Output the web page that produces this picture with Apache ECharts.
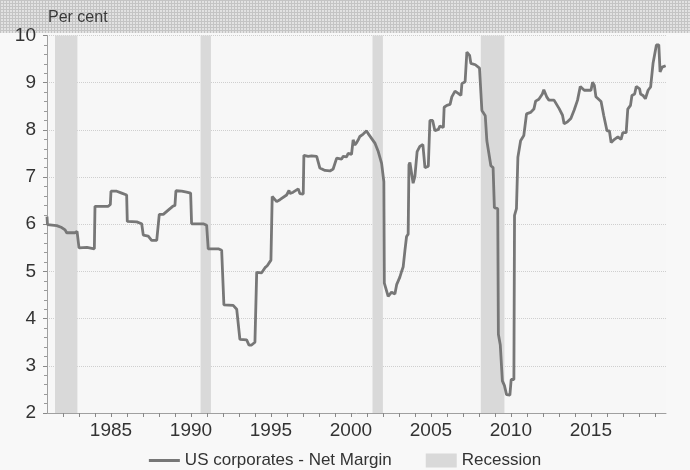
<!DOCTYPE html>
<html>
<head>
<meta charset="utf-8">
<script src="https://cdn.jsdelivr.net/npm/echarts@6/dist/echarts.min.js"></script>
<style>
  html, body { margin: 0; padding: 0; background: #f8f8f8; }
  #chart { width: 690px; height: 470px; }
</style>
</head>
<body>
<div id="chart"></div>
<script>
// quarter-ish time points (decimal years)
const years = [
  1981.00, 1981.03, 1981.61, 1981.92, 1982.13, 1982.23, 1982.75, 1982.88, 1983.00, 1983.50,
  1983.59, 1983.96, 1984.00, 1984.83, 1984.88, 1984.96, 1985.00, 1985.36, 1985.46, 1985.67,
  1985.72, 1985.98, 1986.02, 1986.61, 1986.69, 1986.92, 1987.02, 1987.33, 1987.54, 1987.86,
  1987.96, 1988.02, 1988.27, 1988.38, 1988.58, 1988.86, 1989.00, 1989.06, 1989.42, 1989.52,
  1989.73, 1989.98, 1990.04, 1990.77, 1990.98, 1991.08, 1991.71, 1991.92, 1992.06, 1992.64,
  1992.86, 1993.06, 1993.48, 1993.63, 1993.79, 1993.89, 1994.00, 1994.11, 1994.42, 1994.63,
  1994.77, 1995.00, 1995.08, 1995.36, 1995.56, 1995.98, 1996.13, 1996.19, 1996.39, 1996.71,
  1996.81, 1997.02, 1997.06, 1997.33, 1997.54, 1997.64, 1997.86, 1997.96, 1998.06, 1998.38,
  1998.69, 1998.89, 1999.00, 1999.11, 1999.42, 1999.52, 1999.73, 1999.83, 2000.04, 2000.14,
  2000.25, 2000.36, 2000.46, 2000.56, 2000.77, 2000.98, 2001.08, 2001.29, 2001.50, 2001.71,
  2001.92, 2002.06, 2002.09, 2002.13, 2002.33, 2002.54, 2002.64, 2002.75, 2002.86, 2003.06,
  2003.17, 2003.27, 2003.38, 2003.48, 2003.58, 2003.63, 2003.69, 2003.79, 2003.89, 2004.00,
  2004.14, 2004.31, 2004.50, 2004.63, 2004.84, 2004.94, 2005.11, 2005.25, 2005.47, 2005.56,
  2005.78, 2005.83, 2006.00, 2006.20, 2006.31, 2006.51, 2006.73, 2006.88, 2006.94, 2007.14,
  2007.25, 2007.42, 2007.50, 2007.78, 2008.04, 2008.19, 2008.40, 2008.50, 2008.61, 2008.75,
  2008.89, 2008.97, 2009.18, 2009.22, 2009.34, 2009.47, 2009.60, 2009.73, 2009.94, 2010.02,
  2010.19, 2010.23, 2010.35, 2010.44, 2010.61, 2010.81, 2010.98, 2011.23, 2011.44, 2011.55,
  2011.75, 2011.97, 2012.06, 2012.24, 2012.38, 2012.70, 2012.81, 2013.02, 2013.23, 2013.33,
  2013.54, 2013.75, 2013.96, 2014.17, 2014.34, 2014.59, 2014.80, 2015.01, 2015.11, 2015.22,
  2015.32, 2015.64, 2015.81, 2016.01, 2016.16, 2016.27, 2016.48, 2016.69, 2016.89, 2017.00,
  2017.21, 2017.31, 2017.48, 2017.57, 2017.74, 2017.84, 2018.05, 2018.11, 2018.26, 2018.41,
  2018.58, 2018.74, 2018.89, 2018.99, 2019.10, 2019.25, 2019.33, 2019.46, 2019.68
];

const netMargin = [
  6.16, 5.99, 5.97, 5.93, 5.88, 5.82, 5.82, 5.85, 5.50, 5.51,
  5.48, 5.48, 6.38, 6.38, 6.42, 6.42, 6.70, 6.70, 6.66, 6.66,
  6.62, 6.62, 6.06, 6.05, 6.01, 6.01, 5.77, 5.75, 5.66, 5.66,
  5.70, 6.21, 6.21, 6.25, 6.30, 6.38, 6.40, 6.71, 6.70, 6.68,
  6.68, 6.66, 6.01, 6.01, 5.98, 5.48, 5.48, 5.45, 4.29, 4.28,
  4.20, 3.56, 3.55, 3.44, 3.44, 3.47, 3.50, 4.98, 4.97, 5.08,
  5.12, 5.24, 6.59, 6.48, 6.52, 6.62, 6.72, 6.65, 6.68, 6.75,
  6.65, 6.64, 7.46, 7.44, 7.45, 7.47, 7.44, 7.42, 7.19, 7.14,
  7.13, 7.17, 7.21, 7.40, 7.38, 7.44, 7.43, 7.50, 7.48, 7.79,
  7.68, 7.73, 7.79, 7.86, 7.91, 7.98, 7.92, 7.82, 7.72, 7.54,
  7.29, 6.90, 4.75, 4.72, 4.47, 4.56, 4.60, 4.52, 4.72, 4.88,
  5.00, 5.10, 5.45, 5.74, 5.79, 7.26, 7.31, 7.33, 6.87, 7.01,
  7.54, 7.65, 7.69, 7.20, 7.23, 8.20, 8.20, 7.98, 8.01, 8.08,
  8.05, 8.48, 8.52, 8.54, 8.70, 8.82, 8.77, 8.73, 8.98, 9.02,
  9.65, 9.58, 9.41, 9.38, 9.31, 8.41, 8.30, 7.77, 7.73, 7.24,
  7.20, 6.35, 6.33, 3.67, 3.44, 2.68, 2.58, 2.39, 2.38, 2.71,
  2.71, 6.19, 6.33, 7.42, 7.77, 7.88, 8.34, 8.37, 8.44, 8.61,
  8.65, 8.76, 8.85, 8.70, 8.63, 8.63, 8.62, 8.45, 8.31, 8.13,
  8.17, 8.24, 8.42, 8.63, 8.92, 8.84, 8.84, 8.84, 9.01, 8.94,
  8.70, 8.60, 8.30, 7.98, 7.98, 7.73, 7.80, 7.85, 7.80, 7.94,
  7.94, 8.44, 8.52, 8.73, 8.76, 8.92, 8.87, 8.76, 8.73, 8.66,
  8.84, 8.91, 9.41, 9.41, 9.80, 9.80, 9.23, 9.33, 9.36
];

const recessionStart = [1981.5, 1990.6, 2001.35, 2008.12];
const recessionEnd = [1982.9, 1991.25, 2002.0, 2009.6];

const lineName = 'US corporates - Net Margin';
const recessionName = 'Recession';
const font = '"Liberation Sans", Arial, sans-serif';

let chart = echarts.init(document.getElementById('chart'));

// hatched strip along the top
let tile = document.createElement('canvas');
tile.width = 3;
tile.height = 3;
let tctx = tile.getContext('2d');
tctx.fillStyle = '#e2e2e2';
tctx.fillRect(0, 0, 3, 3);
tctx.fillStyle = '#c4c4c4';
tctx.fillRect(0, 0, 3, 1);
tctx.fillRect(0, 0, 1, 3);

let points = years.map((y, i) => [y, netMargin[i]]);
let bands = recessionStart.map((s, i) => [{xAxis: s}, {xAxis: recessionEnd[i]}]);

let option = {
  backgroundColor: '#f8f8f8',
  animation: false,
  textStyle: {fontFamily: font},
  graphic: [
    {
      type: 'rect',
      left: 0,
      top: 0,
      shape: {width: 690, height: 33},
      style: {fill: {image: tile, repeat: 'repeat'}},
      silent: true
    },
    {
      type: 'text',
      left: 48,
      top: 10,
      style: {text: 'Per cent', fill: '#3a3a3a', fontSize: 16, fontFamily: font}
    }
  ],
  grid: {
    left: 47,
    right: 24,
    top: 35.5,
    bottom: 57,
    show: true,
    backgroundColor: '#f7f7f7',
    borderWidth: 0
  },
  legend: {
    top: 447,
    left: 'center',
    itemWidth: 31,
    itemHeight: 14,
    itemGap: 34,
    textStyle: {fontSize: 17, color: '#333', fontFamily: font},
    data: [
      {name: lineName, icon: 'path://M0,0h31v3h-31z'},
      {name: recessionName, icon: 'rect'}
    ]
  },
  xAxis: {
    type: 'value',
    min: 1981,
    max: 2019.7,
    interval: 1,
    axisLine: {lineStyle: {color: '#a0a0a0'}},
    axisTick: {length: 4, lineStyle: {color: '#888'}},
    axisLabel: {
      fontSize: 19,
      color: '#333',
      fontFamily: font,
      margin: 8,
      showMinLabel: false,
      showMaxLabel: false,
      formatter: v => (v % 5 === 0 ? String(v) : '')
    },
    splitLine: {show: false}
  },
  yAxis: {
    type: 'value',
    min: 2,
    max: 10,
    interval: 1,
    axisLine: {show: true, lineStyle: {color: '#a0a0a0'}},
    axisTick: {show: true, length: 4, lineStyle: {color: '#888'}},
    minorTick: {show: true, splitNumber: 5, length: 3, lineStyle: {color: '#999'}},
    axisLabel: {fontSize: 19, color: '#333', fontFamily: font, margin: 11},
    splitLine: {lineStyle: {color: '#cfcfcf', type: 'dotted'}}
  },
  series: [
    {
      name: recessionName,
      type: 'line',
      data: [],
      itemStyle: {color: '#d9d9d9'},
      lineStyle: {color: '#d9d9d9'},
      markArea: {
        silent: true,
        itemStyle: {color: '#d9d9d9', opacity: 1},
        data: bands
      },
      z: 1
    },
    {
      name: lineName,
      type: 'line',
      data: points,
      symbol: 'none',
      itemStyle: {color: '#777'},
      lineStyle: {color: '#777', width: 2.8},
      z: 5
    }
  ]
};

chart.setOption(option);
</script>
</body>
</html>
